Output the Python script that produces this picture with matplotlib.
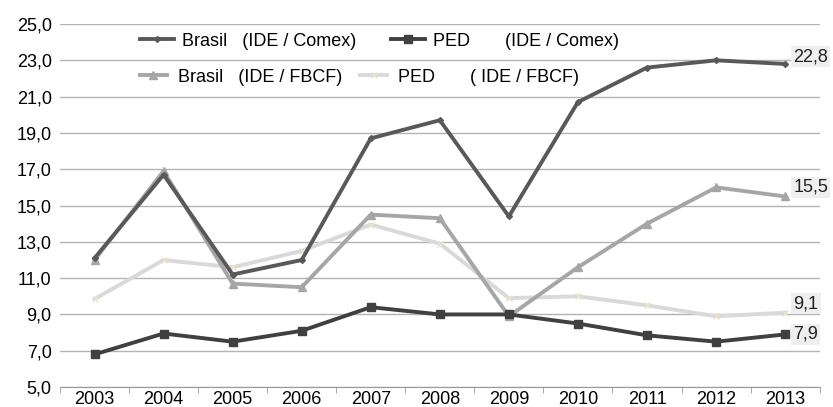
import matplotlib
matplotlib.use("Agg")
import matplotlib.pyplot as plt
import numpy as np

plt.rcParams.update({"font.family": ["Liberation Sans", "DejaVu Sans"], "font.size": 13})

years = ["2003", "2004", "2005", "2006", "2007", "2008", "2009", "2010", "2011", "2012", "2013"]
brasil_comex = [12.1, 16.7, 11.2, 12.0, 18.7, 19.7, 14.4, 20.7, 22.6, 23.0, 22.8]
ped_comex = [6.8, 7.95, 7.5, 8.1, 9.4, 9.0, 9.0, 8.5, 7.85, 7.5, 7.9]
brasil_fbcf = [12.0, 16.9, 10.7, 10.5, 14.5, 14.3, 8.9, 11.6, 14.0, 16.0, 15.5]
ped_fbcf = [9.85, 12.0, 11.6, 12.5, 13.95, 12.9, 9.9, 10.0, 9.5, 8.9, 9.1]

x = np.arange(len(years))
fig = plt.figure(figsize=(8.33, 4.07), dpi=100)
ax = fig.add_axes([0.072, 0.049, 0.912, 0.892])

l1, = ax.plot(x, brasil_comex, color="#595959", lw=2.8, marker="D", ms=3, zorder=5)
l3, = ax.plot(x, brasil_fbcf, color="#a6a6a6", lw=2.8, marker="^", ms=6, zorder=4)
l4, = ax.plot(x, ped_fbcf, color="#d9d9d9", lw=2.8, marker="x", ms=5,
              mec="#e8e4cc", mew=1, zorder=3)
l2, = ax.plot(x, ped_comex, color="#404040", lw=2.8, marker="s", ms=6, zorder=6)

# end-of-line value labels
for vals, dy in ((brasil_comex, 0.4), (brasil_fbcf, 0.5), (ped_fbcf, 0.5), (ped_comex, 0.0)):
    ax.text(x[-1] + 0.12, vals[-1] + dy, f"{vals[-1]:.1f}".replace(".", ","),
            ha="left", va="center", fontsize=13, color="#222222",
            bbox=dict(boxstyle="square,pad=0.12", fc="#efefef", ec="none"), zorder=7,
            clip_on=False)

ax.set_ylim(5, 25)
ax.set_xlim(-0.5, len(years) - 0.5)
ax.set_yticks(np.arange(5, 26, 2))
ax.set_yticklabels([f"{v:.1f}".replace(".", ",") for v in np.arange(5, 26, 2)])
ax.set_xticks(x)
ax.set_xticklabels(years)
ax.set_xticks(np.arange(-0.5, len(years), 1), minor=True)
ax.tick_params(axis="x", which="major", length=0, pad=3, labelsize=13)
ax.tick_params(axis="x", which="minor", length=4, color="#999999")
ax.tick_params(axis="y", length=0, pad=6, labelsize=13)
ax.grid(axis="y", color="#b3b3b3", lw=1)
ax.set_axisbelow(True)
for s in ("top", "right", "left"):
    ax.spines[s].set_visible(False)
ax.spines["bottom"].set_color("#999999")

leg1 = ax.legend([l1, l2], ["Brasil   (IDE / Comex)", "PED       (IDE / Comex)"],
                 ncol=2, frameon=False, loc="center left", bbox_to_anchor=(0.105, 0.953),
                 borderaxespad=0, borderpad=0, handlelength=1.9, handletextpad=0.45,
                 columnspacing=1.9, fontsize=13)
ax.add_artist(leg1)
ax.legend([l3, l4], ["Brasil   (IDE / FBCF)", "PED       ( IDE / FBCF)"],
          ncol=2, frameon=False, loc="center left", bbox_to_anchor=(0.105, 0.854),
          borderaxespad=0, borderpad=0, handlelength=1.5, handletextpad=0.6,
          columnspacing=1.0, fontsize=13)

fig.savefig("out.png", dpi=100)
